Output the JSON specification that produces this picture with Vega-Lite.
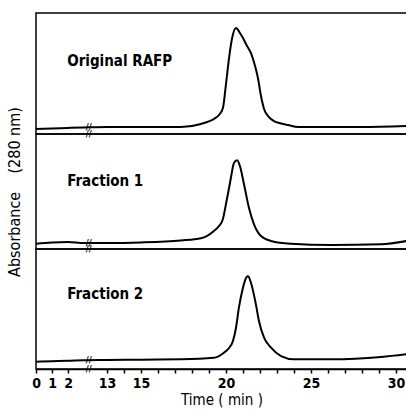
{
  "$schema": "https://vega.github.io/schema/vega-lite/v6.json",
  "padding": {"left": 5, "top": 12, "right": 0, "bottom": 0},
  "spacing": 0,
  "bounds": "flush",
  "config": {
    "view": {"stroke": "black", "strokeWidth": 1.5},
    "concat": {"spacing": 0},
    "font": "DejaVu Sans Condensed",
    "text": {"color": "black"}
  },
  "datasets": {
    "trace": [
      {"panel": "Original RAFP", "t": 0, "a": 0.041},
      {"panel": "Original RAFP", "t": 1, "a": 0.045},
      {"panel": "Original RAFP", "t": 2, "a": 0.05},
      {"panel": "Original RAFP", "t": 3, "a": 0.054},
      {"panel": "Original RAFP", "t": 13, "a": 0.058},
      {"panel": "Original RAFP", "t": 15, "a": 0.058},
      {"panel": "Original RAFP", "t": 17.35, "a": 0.058},
      {"panel": "Original RAFP", "t": 18.53, "a": 0.083},
      {"panel": "Original RAFP", "t": 19.29, "a": 0.124},
      {"panel": "Original RAFP", "t": 19.59, "a": 0.157},
      {"panel": "Original RAFP", "t": 19.82, "a": 0.215},
      {"panel": "Original RAFP", "t": 20.0, "a": 0.413},
      {"panel": "Original RAFP", "t": 20.18, "a": 0.628},
      {"panel": "Original RAFP", "t": 20.35, "a": 0.785},
      {"panel": "Original RAFP", "t": 20.59, "a": 0.876},
      {"panel": "Original RAFP", "t": 20.82, "a": 0.835},
      {"panel": "Original RAFP", "t": 21.0, "a": 0.793},
      {"panel": "Original RAFP", "t": 21.24, "a": 0.727},
      {"panel": "Original RAFP", "t": 21.47, "a": 0.669},
      {"panel": "Original RAFP", "t": 21.71, "a": 0.562},
      {"panel": "Original RAFP", "t": 21.88, "a": 0.463},
      {"panel": "Original RAFP", "t": 22.06, "a": 0.314},
      {"panel": "Original RAFP", "t": 22.24, "a": 0.207},
      {"panel": "Original RAFP", "t": 22.53, "a": 0.14},
      {"panel": "Original RAFP", "t": 22.82, "a": 0.107},
      {"panel": "Original RAFP", "t": 23.24, "a": 0.087},
      {"panel": "Original RAFP", "t": 23.65, "a": 0.074},
      {"panel": "Original RAFP", "t": 24.24, "a": 0.058},
      {"panel": "Original RAFP", "t": 26.18, "a": 0.058},
      {"panel": "Original RAFP", "t": 27.94, "a": 0.058},
      {"panel": "Original RAFP", "t": 30.65, "a": 0.066},

      {"panel": "Fraction 1", "t": 0, "a": 0.046},
      {"panel": "Fraction 1", "t": 1, "a": 0.057},
      {"panel": "Fraction 1", "t": 2, "a": 0.061},
      {"panel": "Fraction 1", "t": 3, "a": 0.052},
      {"panel": "Fraction 1", "t": 13, "a": 0.052},
      {"panel": "Fraction 1", "t": 15, "a": 0.057},
      {"panel": "Fraction 1", "t": 17.35, "a": 0.074},
      {"panel": "Fraction 1", "t": 18.53, "a": 0.093},
      {"panel": "Fraction 1", "t": 19.29, "a": 0.157},
      {"panel": "Fraction 1", "t": 19.59, "a": 0.2},
      {"panel": "Fraction 1", "t": 19.82, "a": 0.261},
      {"panel": "Fraction 1", "t": 20.0, "a": 0.391},
      {"panel": "Fraction 1", "t": 20.18, "a": 0.53},
      {"panel": "Fraction 1", "t": 20.29, "a": 0.62},
      {"panel": "Fraction 1", "t": 20.47, "a": 0.748},
      {"panel": "Fraction 1", "t": 20.65, "a": 0.771},
      {"panel": "Fraction 1", "t": 20.82, "a": 0.722},
      {"panel": "Fraction 1", "t": 21.06, "a": 0.563},
      {"panel": "Fraction 1", "t": 21.35, "a": 0.359},
      {"panel": "Fraction 1", "t": 21.65, "a": 0.215},
      {"panel": "Fraction 1", "t": 22.06, "a": 0.113},
      {"panel": "Fraction 1", "t": 22.65, "a": 0.07},
      {"panel": "Fraction 1", "t": 23.82, "a": 0.046},
      {"panel": "Fraction 1", "t": 26.18, "a": 0.035},
      {"panel": "Fraction 1", "t": 29.12, "a": 0.041},
      {"panel": "Fraction 1", "t": 30.65, "a": 0.07},

      {"panel": "Fraction 2", "t": 0, "a": 0.061},
      {"panel": "Fraction 2", "t": 1, "a": 0.065},
      {"panel": "Fraction 2", "t": 2, "a": 0.068},
      {"panel": "Fraction 2", "t": 3, "a": 0.073},
      {"panel": "Fraction 2", "t": 13, "a": 0.075},
      {"panel": "Fraction 2", "t": 15, "a": 0.078},
      {"panel": "Fraction 2", "t": 17.35, "a": 0.081},
      {"panel": "Fraction 2", "t": 19.29, "a": 0.094},
      {"panel": "Fraction 2", "t": 19.88, "a": 0.136},
      {"panel": "Fraction 2", "t": 20.18, "a": 0.175},
      {"panel": "Fraction 2", "t": 20.41, "a": 0.233},
      {"panel": "Fraction 2", "t": 20.59, "a": 0.344},
      {"panel": "Fraction 2", "t": 20.76, "a": 0.511},
      {"panel": "Fraction 2", "t": 21.0, "a": 0.678},
      {"panel": "Fraction 2", "t": 21.18, "a": 0.758},
      {"panel": "Fraction 2", "t": 21.29, "a": 0.775},
      {"panel": "Fraction 2", "t": 21.47, "a": 0.719},
      {"panel": "Fraction 2", "t": 21.76, "a": 0.539},
      {"panel": "Fraction 2", "t": 21.94, "a": 0.4},
      {"panel": "Fraction 2", "t": 22.24, "a": 0.261},
      {"panel": "Fraction 2", "t": 22.65, "a": 0.178},
      {"panel": "Fraction 2", "t": 23.24, "a": 0.108},
      {"panel": "Fraction 2", "t": 24.0, "a": 0.081},
      {"panel": "Fraction 2", "t": 26.18, "a": 0.081},
      {"panel": "Fraction 2", "t": 29.12, "a": 0.1},
      {"panel": "Fraction 2", "t": 30.65, "a": 0.123}
    ],
    "breaks": [
      {"panel": "Original RAFP", "t": 10, "a": 0.056},
      {"panel": "Original RAFP", "t": 10, "a": 0},
      {"panel": "Fraction 1", "t": 10, "a": 0.052},
      {"panel": "Fraction 1", "t": 10, "a": 0},
      {"panel": "Fraction 2", "t": 10, "a": 0.074},
      {"panel": "Fraction 2", "t": 10, "a": 0}
    ]
  },
  "vconcat": [
    {
      "width": 371, "height": 121,
      "layer": [
        {
          "data": {"name": "trace"},
          "transform": [{"filter": "datum.panel == 'Original RAFP'"}],
          "mark": {"type": "line", "color": "black", "strokeWidth": 2, "interpolate": "monotone"},
          "encoding": {
            "x": {"field": "t", "type": "quantitative", "scale": {"domain": [0, 3, 12, 30.65], "range": [0, 48, 54, 371], "nice": false}, "axis": null},
            "y": {"field": "a", "type": "quantitative", "scale": {"domain": [0, 1], "nice": false}, "axis": null}
          }
        },
        {
          "data": {"name": "breaks"},
          "transform": [{"filter": "datum.panel == 'Original RAFP'"}],
          "mark": {"type": "text", "text": "//", "fontSize": 9, "fontWeight": "bold"},
          "encoding": {
            "x": {"field": "t", "type": "quantitative", "axis": null},
            "y": {"field": "a", "type": "quantitative", "axis": null}
          }
        },
        {
          "data": {"values": [{}]},
          "mark": {"type": "text", "text": "Original RAFP", "align": "left", "baseline": "middle", "fontSize": 15, "fontWeight": "bold"},
          "encoding": {
            "x": {"datum": 1.95, "type": "quantitative", "axis": null},
            "y": {"datum": 0.6, "type": "quantitative", "axis": null}
          }
        }
      ]
    },
    {
      "width": 371, "height": 115,
      "layer": [
        {
          "data": {"name": "trace"},
          "transform": [{"filter": "datum.panel == 'Fraction 1'"}],
          "mark": {"type": "line", "color": "black", "strokeWidth": 2, "interpolate": "monotone"},
          "encoding": {
            "x": {"field": "t", "type": "quantitative", "scale": {"domain": [0, 3, 12, 30.65], "range": [0, 48, 54, 371], "nice": false}, "axis": null},
            "y": {"field": "a", "type": "quantitative", "scale": {"domain": [0, 1], "nice": false},
                  "axis": {"title": "Absorbance\u00a0\u00a0\u00a0\u00a0(280 nm)", "labels": false, "ticks": false, "domain": false, "grid": false, "titleFontSize": 16, "titleFontWeight": "normal", "titlePadding": 14, "titleColor": "black"}}
          }
        },
        {
          "data": {"name": "breaks"},
          "transform": [{"filter": "datum.panel == 'Fraction 1'"}],
          "mark": {"type": "text", "text": "//", "fontSize": 9, "fontWeight": "bold"},
          "encoding": {
            "x": {"field": "t", "type": "quantitative", "axis": null},
            "y": {"field": "a", "type": "quantitative"}
          }
        },
        {
          "data": {"values": [{}]},
          "mark": {"type": "text", "text": "Fraction 1", "align": "left", "baseline": "middle", "fontSize": 15, "fontWeight": "bold"},
          "encoding": {
            "x": {"datum": 1.95, "type": "quantitative", "axis": null},
            "y": {"datum": 0.59, "type": "quantitative"}
          }
        }
      ]
    },
    {
      "width": 371, "height": 120,
      "layer": [
        {
          "data": {"name": "trace"},
          "transform": [{"filter": "datum.panel == 'Fraction 2'"}],
          "mark": {"type": "line", "color": "black", "strokeWidth": 2, "interpolate": "monotone"},
          "encoding": {
            "x": {"field": "t", "type": "quantitative", "scale": {"domain": [0, 3, 12, 30.65], "range": [0, 48, 54, 371], "nice": false},
                  "axis": {"values": [0, 1, 2, 13, 14, 15, 16, 17, 18, 19, 20, 21, 22, 23, 24, 25, 26, 27, 28, 29, 30],
                           "tickCount": 60, "format": "d",
                           "labelExpr": "indexof([0,1,2,13,15,20,25,30], datum.value) >= 0 ? datum.label : ''",
                           "title": "Time ( min )", "grid": false, "domainColor": "black", "domainWidth": 1.5,
                           "tickColor": "black", "tickWidth": 1.5, "tickSize": 4, "labelFontSize": 14, "labelFontWeight": "bold",
                           "labelColor": "black", "labelPadding": 3, "labelOverlap": false, "labelFlush": false,
                           "titleFontSize": 15, "titleFontWeight": "normal", "titleColor": "black", "titlePadding": 2}},
            "y": {"field": "a", "type": "quantitative", "scale": {"domain": [0, 1], "nice": false}, "axis": null}
          }
        },
        {
          "data": {"name": "breaks"},
          "transform": [{"filter": "datum.panel == 'Fraction 2'"}],
          "mark": {"type": "text", "text": "//", "fontSize": 9, "fontWeight": "bold"},
          "encoding": {
            "x": {"field": "t", "type": "quantitative"},
            "y": {"field": "a", "type": "quantitative", "axis": null}
          }
        },
        {
          "data": {"values": [{}]},
          "mark": {"type": "text", "text": "Fraction 2", "align": "left", "baseline": "middle", "fontSize": 15, "fontWeight": "bold"},
          "encoding": {
            "x": {"datum": 1.95, "type": "quantitative"},
            "y": {"datum": 0.625, "type": "quantitative", "axis": null}
          }
        }
      ]
    }
  ]
}
